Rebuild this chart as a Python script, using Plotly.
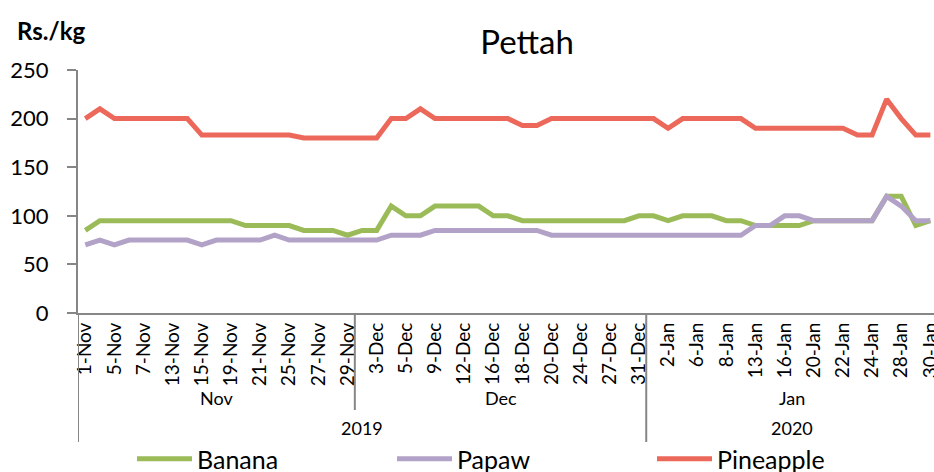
import plotly.graph_objects as go

dates = [
    "1-Nov", "4-Nov", "5-Nov", "6-Nov", "7-Nov", "12-Nov", "13-Nov", "14-Nov", "15-Nov", "18-Nov",
    "19-Nov", "20-Nov", "21-Nov", "22-Nov", "25-Nov", "26-Nov", "27-Nov", "28-Nov", "29-Nov",
    "2-Dec", "3-Dec", "4-Dec", "5-Dec", "6-Dec", "9-Dec", "11-Dec", "12-Dec", "13-Dec", "16-Dec",
    "17-Dec", "18-Dec", "19-Dec", "20-Dec", "23-Dec", "24-Dec", "26-Dec", "27-Dec", "30-Dec", "31-Dec",
    "1-Jan", "2-Jan", "3-Jan", "6-Jan", "7-Jan", "8-Jan", "10-Jan", "13-Jan", "14-Jan", "16-Jan",
    "17-Jan", "20-Jan", "21-Jan", "22-Jan", "23-Jan", "24-Jan", "27-Jan", "28-Jan", "29-Jan", "30-Jan",
]

months = ["Nov", "Dec", "Jan"]
month_counts = [19, 20, 20]
years = ["2019", "2020"]
year_counts = [39, 20]

banana = [
    85, 95, 95, 95, 95, 95, 95, 95, 95, 95,
    95, 90, 90, 90, 90, 85, 85, 85, 80,
    85, 85, 110, 100, 100, 110, 110, 110, 110, 100,
    100, 95, 95, 95, 95, 95, 95, 95, 95, 100,
    100, 95, 100, 100, 100, 95, 95, 90, 90, 90,
    90, 95, 95, 95, 95, 95, 120, 120, 90, 95,
]
papaw = [
    70, 75, 70, 75, 75, 75, 75, 75, 70, 75,
    75, 75, 75, 80, 75, 75, 75, 75, 75,
    75, 75, 80, 80, 80, 85, 85, 85, 85, 85,
    85, 85, 85, 80, 80, 80, 80, 80, 80, 80,
    80, 80, 80, 80, 80, 80, 80, 90, 90, 100,
    100, 95, 95, 95, 95, 95, 120, 110, 95, 95,
]
pineapple = [
    200, 210, 200, 200, 200, 200, 200, 200, 183, 183,
    183, 183, 183, 183, 183, 180, 180, 180, 180,
    180, 180, 200, 200, 210, 200, 200, 200, 200, 200,
    200, 193, 193, 200, 200, 200, 200, 200, 200, 200,
    200, 190, 200, 200, 200, 200, 200, 190, 190, 190,
    190, 190, 190, 190, 183, 183, 220, 200, 183, 183,
]

series = [
    ("Banana", banana, "#9BBB59"),
    ("Papaw", papaw, "#B3A2C7"),
    ("Pineapple", pineapple, "#EC685A"),
]

FONT = "Lato"
AXIS_COLOR = "#868686"

fig = go.Figure()
for name, vals, color in series:
    fig.add_trace(go.Scatter(
        x=dates, y=vals, name=name, mode="lines",
        line=dict(color=color, width=5),
    ))

n = len(dates)
fig.update_xaxes(
    type="category",
    range=[-0.5, n - 0.75],
    tickmode="array",
    tickvals=dates[::2],
    ticktext=dates[::2],
    tickangle=-90,
    tickfont=dict(family=FONT, size=19, color="#000000"),
    showline=True, linecolor=AXIS_COLOR, linewidth=2,
    showgrid=False, zeroline=False, ticks="",
    automargin=False,
)
fig.update_yaxes(
    range=[0, 250], dtick=50,
    tickfont=dict(family=FONT, size=22, color="#000000"),
    showline=True, linecolor=AXIS_COLOR, linewidth=2,
    ticks="outside", ticklen=9, tickcolor=AXIS_COLOR, tickwidth=2,
    ticklabelstandoff=14,
    showgrid=False, zeroline=False,
    automargin=False,
)

H_PLOT = 243.0
W_PLOT = 856.0
def py(px_below):
    return -px_below / H_PLOT

shapes = []
annotations = []
start = 0
for m, c in zip(months, month_counts):
    center = start - 0.5 + c / 2
    annotations.append(dict(x=center, y=py(85), xref="x", yref="paper", text=m,
                            showarrow=False, font=dict(family=FONT, size=18, color="#000000"),
                            xanchor="center", yanchor="middle"))
    start += c
start = 0
for y, c in zip(years, year_counts):
    center = start - 0.5 + c / 2
    annotations.append(dict(x=center, y=py(115), xref="x", yref="paper", text=y,
                            showarrow=False, font=dict(family=FONT, size=18, color="#000000"),
                            xanchor="center", yanchor="middle"))
    start += c

year_bounds = [-0.5]
acc = 0
for c in year_counts[:-1]:
    acc += c
    year_bounds.append(acc - 0.5)
month_bounds = []
acc = 0
for c in month_counts[:-1]:
    acc += c
    if acc - 0.5 not in year_bounds:
        month_bounds.append(acc - 0.5)
for xb in year_bounds:
    shapes.append(dict(type="line", xref="x", yref="paper", x0=xb, x1=xb, y0=0, y1=py(129),
                       line=dict(color=AXIS_COLOR, width=2)))
for xb in month_bounds:
    shapes.append(dict(type="line", xref="x", yref="paper", x0=xb, x1=xb, y0=0, y1=py(97),
                       line=dict(color=AXIS_COLOR, width=2)))

annotations.append(dict(x=-63 / W_PLOT, y=1 + 40 / H_PLOT, xref="paper", yref="paper",
                        text="<b>Rs./kg</b>", showarrow=False, xanchor="left", yanchor="middle",
                        font=dict(family=FONT, size=24, color="#000000")))

fig.update_layout(
    width=934, height=472,
    margin=dict(l=78, r=0, t=70, b=159, autoexpand=False),
    paper_bgcolor="white", plot_bgcolor="white",
    title=dict(text="Pettah", x=527 / 934, xref="container", xanchor="center",
               y=1 - 42 / 472, yref="container", yanchor="middle",
               font=dict(family=FONT, size=33, color="#000000")),
    showlegend=True,
    legend=dict(orientation="h", x=(132 - 78) / W_PLOT, xanchor="left",
                y=py(146), yanchor="middle", entrywidth=190, entrywidthmode="pixels",
                itemwidth=55,
                font=dict(family=FONT, size=25, color="#000000"),
                bgcolor="rgba(0,0,0,0)"),
    shapes=shapes,
    annotations=annotations,
)

fig.write_html("out.html", config={"displayModeBar": False},
               post_script="document.body.style.margin='0';document.body.style.overflow='hidden';")
